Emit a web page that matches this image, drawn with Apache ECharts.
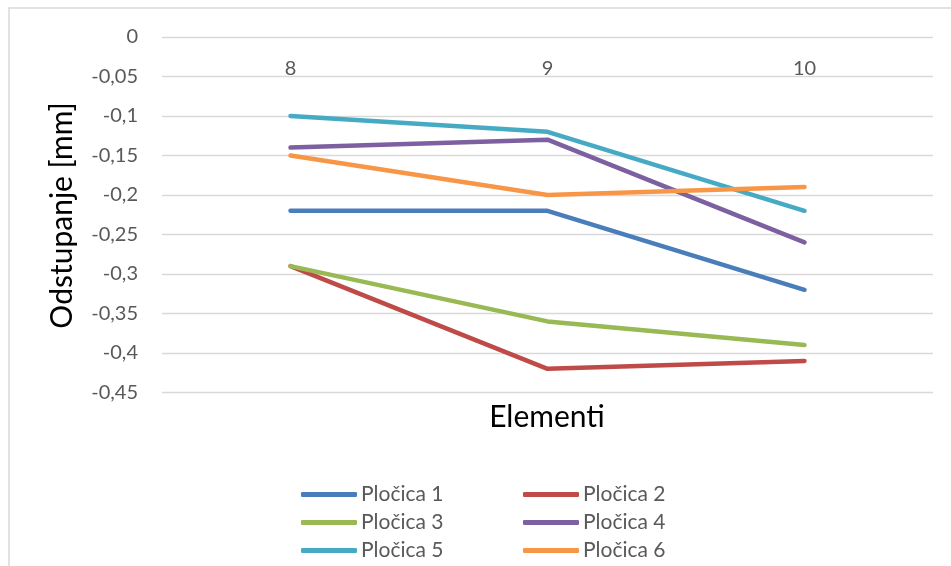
<!DOCTYPE html>
<html>
<head>
<meta charset="utf-8">
<script src="https://cdn.jsdelivr.net/npm/echarts@6/dist/echarts.min.js"></script>
<style>html,body{margin:0;padding:0;background:#fff}#c{width:951px;height:566px}</style>
</head>
<body>
<div id="c"></div>
<script>
const categories = ['8', '9', '10'];
const seriesNames = ['Pločica 1', 'Pločica 2', 'Pločica 3', 'Pločica 4', 'Pločica 5', 'Pločica 6'];
const plocica1 = [-0.22, -0.22, -0.32];
const plocica2 = [-0.29, -0.42, -0.41];
const plocica3 = [-0.29, -0.36, -0.39];
const plocica4 = [-0.14, -0.13, -0.26];
const plocica5 = [-0.10, -0.12, -0.22];
const plocica6 = [-0.15, -0.20, -0.19];
const colors = ['#4a7ebb', '#be4b48', '#98b954', '#7d60a0', '#46aac5', '#f79646'];
const yTitle = 'Odstupanje [mm]';
const xTitle = 'Elementi';

const allData = [plocica1, plocica2, plocica3, plocica4, plocica5, plocica6];
const FONT = 'Lato, "Open Sans", sans-serif';

const chart = echarts.init(document.getElementById('c'));
chart.setOption({
  animation: false,
  backgroundColor: '#fff',
  grid: { left: 162, right: 18, top: 37, bottom: 173.5, containLabel: false },
  xAxis: {
    type: 'category',
    data: categories,
    position: 'top',
    boundaryGap: true,
    axisLine: { show: false },
    axisTick: { show: false },
    axisLabel: { inside: true, margin: 22, color: '#595959', fontSize: 20, fontFamily: FONT }
  },
  yAxis: {
    type: 'value',
    min: -0.45, max: 0, interval: 0.05,
    axisLine: { show: false },
    axisTick: { show: false },
    splitLine: { lineStyle: { color: '#d9d9d9', width: 1.3 } },
    axisLabel: {
      margin: 24, color: '#595959', fontSize: 20, fontFamily: FONT,
      formatter: v => String(Math.round(v * 100) / 100).replace('.', ',')
    }
  },
  legend: {
    left: 296, top: 478, width: 460,
    itemWidth: 56, itemHeight: 5, itemGap: 5,
    icon: 'roundRect',
    textStyle: { color: '#595959', fontSize: 21, fontFamily: FONT, width: 157, lineHeight: 23, padding: [0, 0, 0, -1] },
    data: seriesNames
  },
  series: seriesNames.map((name, i) => ({
    name: name,
    type: 'line',
    data: allData[i],
    showSymbol: false,
    symbol: 'none',
    color: colors[i],
    lineStyle: { width: 4.5, color: colors[i], cap: 'round', join: 'round' }
  })),
  graphic: [
    { type: 'rect', shape: { x: 9, y: 8, width: 980, height: 600 }, style: { fill: 'none', stroke: '#d9d9d9', lineWidth: 1.5 }, silent: true },
    { type: 'text', x: 62, y: 215.5, rotation: Math.PI / 2,
      style: { text: yTitle, fontSize: 30, fontFamily: FONT, fill: '#000', textAlign: 'center', textVerticalAlign: 'middle' } },
    { type: 'text', x: 547, y: 417,
      style: { text: xTitle, fontSize: 30, fontFamily: FONT, fill: '#000', textAlign: 'center', textVerticalAlign: 'middle' } }
  ]
});
</script>
</body>
</html>
